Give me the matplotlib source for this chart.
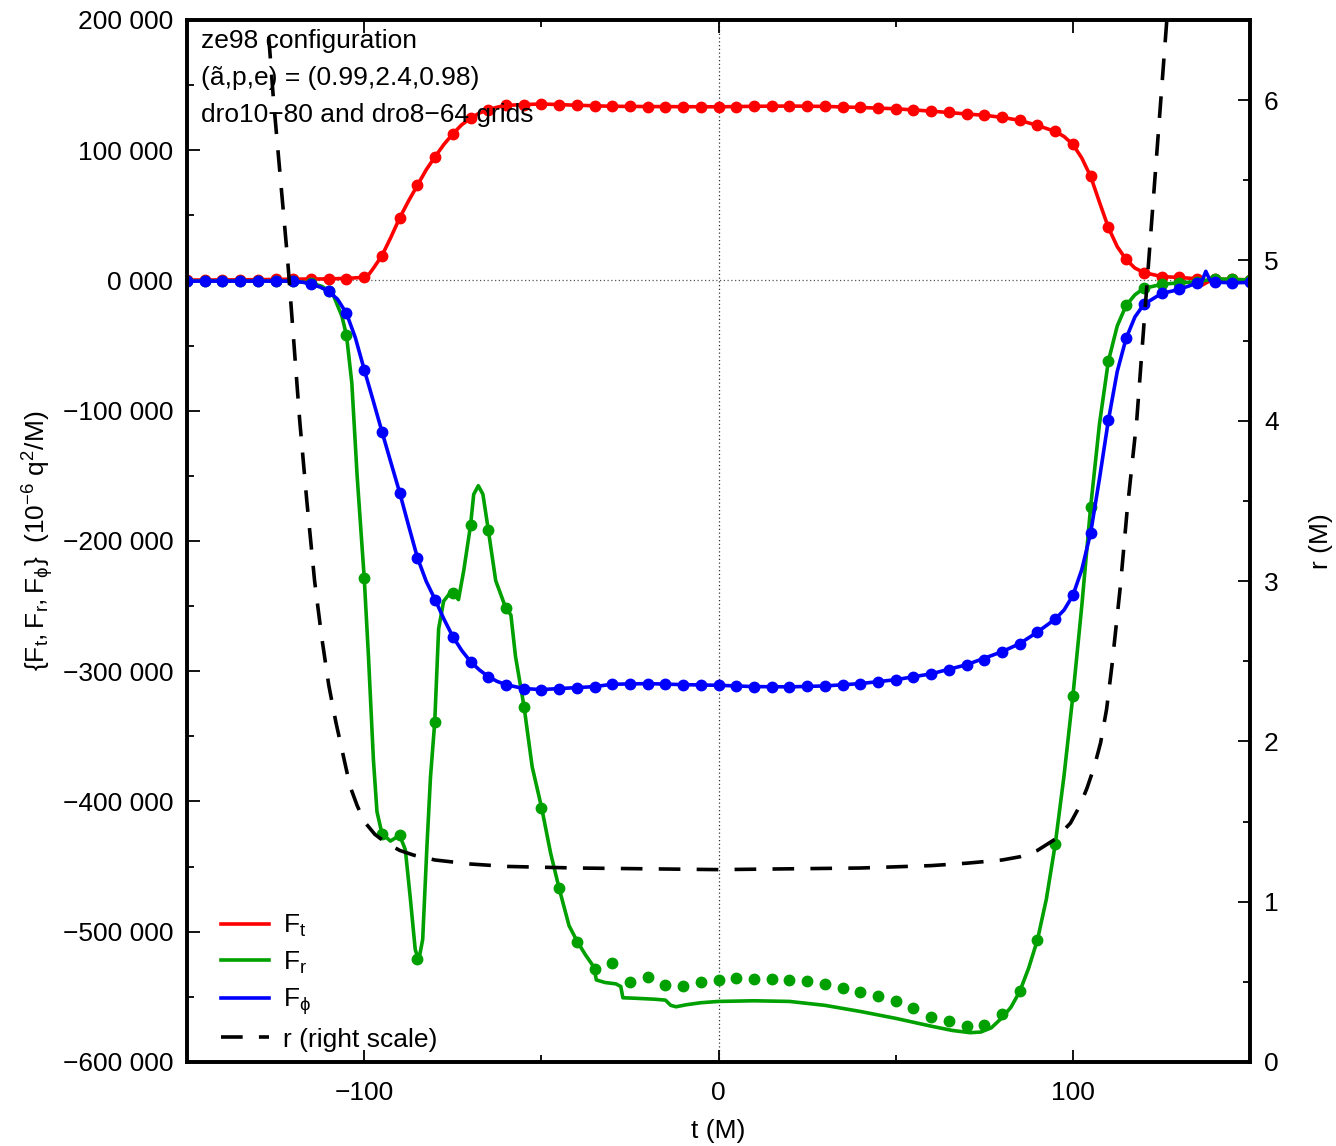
import matplotlib
matplotlib.use("Agg")
import matplotlib.pyplot as plt
from matplotlib.lines import Line2D
from matplotlib.ticker import MultipleLocator, FixedLocator, FixedFormatter

plt.rcParams['font.family'] = ['Liberation Sans', 'DejaVu Sans']
plt.rcParams['mathtext.fontset'] = 'custom'
plt.rcParams['mathtext.rm'] = 'Liberation Sans'
plt.rcParams['mathtext.it'] = 'Liberation Sans:italic'
plt.rcParams['mathtext.default'] = 'regular'

# sample times of the dro8-64 run (dots)
t_dots = [-150, -145, -140, -135, -130, -125, -120, -115, -110, -105,
          -100, -95, -90, -85, -80, -75, -70, -65, -60, -55,
          -50, -45, -40, -35, -30, -25, -20, -15, -10, -5,
          0, 5, 10, 15, 20, 25, 30, 35, 40, 45,
          50, 55, 60, 65, 70, 75, 80, 85, 90, 95,
          100, 105, 110, 115, 120, 125, 130, 135, 140, 145, 150]

ft_dots = [300, 300, 400, 500, 600, 800, 1000, 1300, 1200, 1500,
           2300, 19000, 48000, 73000, 95000, 112500, 124500, 131000, 134400, 135000,
           135500, 135000, 134500, 134000, 133700, 133600, 133500, 133500, 133400, 133400,
           133300, 133500, 133700, 133800, 133900, 133800, 133600, 133300, 132800, 132300,
           131800, 131000, 130000, 129000, 127800, 126800, 125200, 122900, 119000, 114400,
           104400, 79900, 40700, 16100, 6100, 3000, 2300, 1500, 800, 800, 500]

fr_dots = [-400, -400, -400, -400, -500, -500, -600, -2000, -8000, -42200,
           -228300, -424600, -425900, -521200, -339000, -240000, -188100, -191200, -251100, -327100,
           -405200, -466600, -507600, -528600, -524000, -538900, -534800, -541200, -541400, -538600,
           -537300, -535600, -536100, -536300, -536800, -538100, -539900, -543200, -546300, -549100,
           -553000, -558600, -565500, -568300, -572200, -571400, -563200, -545800, -506100, -433000,
           -318700, -173900, -62000, -19200, -6100, -3000, -1800, -1000, 1300, 800, 300]

fphi_dots = [-500, -500, -500, -500, -500, -500, -500, -3000, -8400, -25300,
             -68400, -116000, -162800, -212700, -245000, -273400, -292600, -304100, -310300, -313300,
             -314100, -313300, -312600, -311800, -310000, -310000, -309500, -310000, -310300, -310300,
             -310800, -311500, -311800, -312000, -312000, -311500, -311300, -310500, -309500, -308000,
             -306500, -304100, -302000, -298900, -295000, -291000, -285000, -278800, -269900, -260000,
             -241800, -193800, -107500, -44500, -18400, -10000, -6900, -2000, -1300, -1800, -1500]

# dro10-80 run (solid lines), (t, F) pairs
ft_line = [(-150, 300), (-140, 400), (-130, 600), (-120, 1000), (-110, 1200), (-104, 1700),
           (-101, 2300), (-99, 3500), (-97.5, 9000), (-95, 19000), (-92.5, 33000), (-90, 48000),
           (-87.5, 61000), (-85, 73000), (-82.5, 85000), (-80, 95000), (-77.5, 104500),
           (-75, 112500), (-72.5, 119500), (-70, 124500), (-67.5, 128500), (-65, 131000),
           (-62.5, 133000), (-60, 134400), (-55, 135000), (-50, 135500), (-40, 134500),
           (-30, 133700), (-20, 133500), (-10, 133400), (0, 133300), (10, 133700), (20, 133900),
           (30, 133600), (40, 132800), (50, 131800), (60, 130000), (70, 127800), (75, 126800),
           (80, 125200), (85, 122900), (90, 119000), (95, 114400), (97.5, 110500), (100, 104400),
           (102.5, 94000), (105, 79900), (107.5, 60000), (110, 40700), (112.5, 26000),
           (115, 16100), (117.5, 9500), (120, 6100), (125, 3000), (130, 2300), (134, 1500),
           (136.5, -3500), (138.5, -500), (140, 800), (145, 800), (150, 500)]

fr_line = [(-150, -400), (-120, -600), (-115, -2000), (-112, -4500), (-109, -9400),
           (-106.3, -27400), (-105, -42200), (-103.5, -78600), (-102, -150000), (-100, -228300),
           (-98.8, -288700), (-97.4, -368100), (-96.4, -407800), (-95, -424600), (-92.6, -430400),
           (-90, -425900), (-88.4, -437000), (-87, -474000), (-85.6, -513800), (-84.6, -521700),
           (-83.5, -505900), (-82.3, -434400), (-81.3, -381400), (-80.1, -339000), (-79, -267500),
           (-77.6, -246300), (-76.1, -241000), (-75, -240000), (-73.4, -245000), (-71.9, -222500),
           (-70, -188100), (-69.1, -164200), (-67.8, -157600), (-66.5, -164200), (-65, -191200),
           (-62.9, -230400), (-60.1, -251100), (-58.6, -256900), (-57.3, -288700), (-54.9, -327100),
           (-52.6, -373400), (-49.9, -405200), (-47.4, -439600), (-45, -466600), (-42.2, -495300),
           (-39.8, -507900), (-37.5, -518000), (-35.2, -527000), (-34.5, -537000), (-32, -539000),
           (-29, -540000), (-27.6, -542000), (-27, -550700), (-24, -551000), (-18, -551800),
           (-15, -552500), (-13.5, -556500), (-12, -557600), (-9, -556000), (-5, -554500),
           (0, -553500), (10, -553000), (20, -553500), (30, -556500), (40, -561200),
           (50, -566500), (60, -572500), (66, -575800), (71, -577500), (74, -577000),
           (77, -573700), (80, -566000), (82.5, -558000), (85, -545800), (87.5, -528000),
           (90, -506100), (92.5, -475000), (95, -433000), (97.5, -380000), (100, -318700),
           (102.5, -250000), (105, -173900), (107.5, -110000), (110, -62000), (112.5, -35000),
           (115, -19200), (117.5, -11000), (120, -6100), (125, -3000), (130, -1800),
           (135, -1000), (140, 1300), (145, 800), (150, 300)]

fphi_line = [(-150, -500), (-120, -500), (-117, -1500), (-115, -3000), (-112.5, -5000),
             (-110, -8400), (-107.5, -14500), (-105, -25300), (-102.5, -44000), (-100, -68400),
             (-97.5, -92000), (-95, -116000), (-92.5, -139500), (-90, -162800), (-87.5, -188000),
             (-85, -212700), (-82.5, -231000), (-80, -245000), (-77.5, -260000), (-75, -273400),
             (-72.5, -284000), (-70, -292600), (-67.5, -299000), (-65, -304100), (-62.5, -307800),
             (-60, -310300), (-55, -313300), (-50, -314100), (-45, -313300), (-40, -312600),
             (-35, -311800), (-30, -310000), (-20, -309500), (-10, -310300), (0, -310800),
             (10, -311800), (20, -312000), (30, -311300), (40, -309500), (50, -306500),
             (60, -302000), (70, -295000), (80, -285000), (85, -278800), (90, -269900),
             (95, -260000), (97.5, -253000), (100, -241800), (102.5, -222000), (105, -193800),
             (107.5, -152000), (110, -107500), (112.5, -70000), (115, -44500), (117.5, -28000),
             (120, -18400), (125, -10000), (130, -6900), (135, -2000), (136.5, 0),
             (137.5, 7000), (138.7, 0), (140, -1300), (145, -1800), (150, -1500)]

# orbital radius r (right scale)
r_line = [(-128.5, 7.0), (-127.3, 6.5), (-125.6, 6.0), (-123.6, 5.5), (-121.6, 5.0),
          (-119.9, 4.5), (-118.2, 4.0), (-116.2, 3.5), (-114, 3.0), (-112, 2.65),
          (-110, 2.35), (-108, 2.12), (-106, 1.92), (-104, 1.72), (-102, 1.6),
          (-100, 1.5), (-97, 1.42), (-94, 1.37), (-90, 1.32), (-86, 1.29),
          (-80, 1.26), (-70, 1.235), (-60, 1.22), (-40, 1.21), (-20, 1.205),
          (0, 1.2), (20, 1.205), (40, 1.21), (60, 1.225), (70, 1.24),
          (80, 1.26), (85, 1.28), (90, 1.32), (95, 1.39), (99.3, 1.49),
          (102, 1.6), (104, 1.71), (106, 1.84), (107.8, 1.99), (109.5, 2.2),
          (111, 2.47), (113.4, 2.97), (115.3, 3.44), (118, 4.0), (119.7, 4.5),
          (121.4, 5.0), (123.1, 5.5), (124.8, 6.0), (126.5, 6.5), (127.7, 7.0)]

yticks = [200000, 100000, 0, -100000, -200000, -300000, -400000, -500000, -600000]
ytick_labels = ['200 000', '100 000', '0 000', '\u2212100 000', '\u2212200 000',
                '\u2212300 000', '\u2212400 000', '\u2212500 000', '\u2212600 000']
info_lines = ['ze98 configuration', '(\u00e3,p,e) = (0.99,2.4,0.98)',
              'dro10\u221280 and dro8\u221264 grids']

RED, GREEN, BLUE = '#ff0000', '#00a000', '#0000ff'
FS = 19
LW = 2.6
MS = 7.5

fig = plt.figure(figsize=(13.36, 11.46), dpi=100)
ax = fig.add_axes([0.1400, 0.0733, 0.7957, 0.9093])

ax.axhline(0, color='#555555', lw=0.9, ls=(0, (1, 2)), zorder=1)
ax.axvline(0, color='#333333', lw=0.9, ls=(0, (1, 2)), zorder=1)

for line, dots, col in [(ft_line, ft_dots, RED), (fr_line, fr_dots, GREEN),
                        (fphi_line, fphi_dots, BLUE)]:
    tl, fl = zip(*line)
    ax.plot(tl, fl, color=col, lw=LW, zorder=2)
    ax.plot(t_dots, dots, 'o', color=col, ms=MS, mec=col, zorder=2)

ax.set_xlim(-150, 150)
ax.set_ylim(-600000, 200000)
ax.xaxis.set_major_locator(MultipleLocator(100))
ax.xaxis.set_minor_locator(MultipleLocator(50))
ax.yaxis.set_major_locator(FixedLocator(yticks))
ax.yaxis.set_major_formatter(FixedFormatter(ytick_labels))
ax.yaxis.set_minor_locator(MultipleLocator(50000))
ax.tick_params(which='both', direction='in', top=True, right=False, labelsize=FS, width=1.3)
ax.tick_params(which='major', length=9)
ax.tick_params(which='minor', length=5)
ax.tick_params(axis='y', pad=10)
ax.tick_params(axis='x', pad=14)
ax.set_xlabel('t (M)', fontsize=FS, labelpad=10)
ax.set_ylabel(r'$\{F_t,F_r,F_\phi\}$  $(10^{-6}\ q^2/M)$', fontsize=FS, labelpad=5)

for i, s in enumerate(info_lines):
    ax.text(0.0132, 0.9798 - i * 0.0355, s, transform=ax.transAxes, fontsize=FS,
            ha='left', va='center', zorder=5)

ax2 = ax.twinx()
tr, rr = zip(*r_line)
ax2.plot(tr, rr, color='black', lw=LW, dashes=(6, 4.5), zorder=3)
ax2.set_ylim(0, 6.5)
ax2.yaxis.set_major_locator(MultipleLocator(1))
ax2.yaxis.set_minor_locator(MultipleLocator(0.5))
ax2.tick_params(which='both', direction='in', labelsize=FS, width=1.3, pad=10)
ax2.tick_params(which='major', length=9)
ax2.tick_params(which='minor', length=5)
ax2.set_ylabel('r (M)', fontsize=FS, labelpad=22)

for a in (ax, ax2):
    for sp in a.spines.values():
        sp.set_linewidth(2.6)

handles = [Line2D([], [], color=RED, lw=LW), Line2D([], [], color=GREEN, lw=LW),
           Line2D([], [], color=BLUE, lw=LW),
           Line2D([], [], color='black', lw=LW, dashes=(6, 4.5))]
labels = [r'$F_t$', r'$F_r$', r'$F_\phi$', 'r (right scale)']
ax2.legend(handles, labels, loc='lower left', bbox_to_anchor=(0.027, 0.005),
           frameon=False, fontsize=FS, handlelength=1.8, handletextpad=0.55,
           labelspacing=0.4, borderpad=0.2, borderaxespad=0)

fig.savefig('out.png', dpi=100)
